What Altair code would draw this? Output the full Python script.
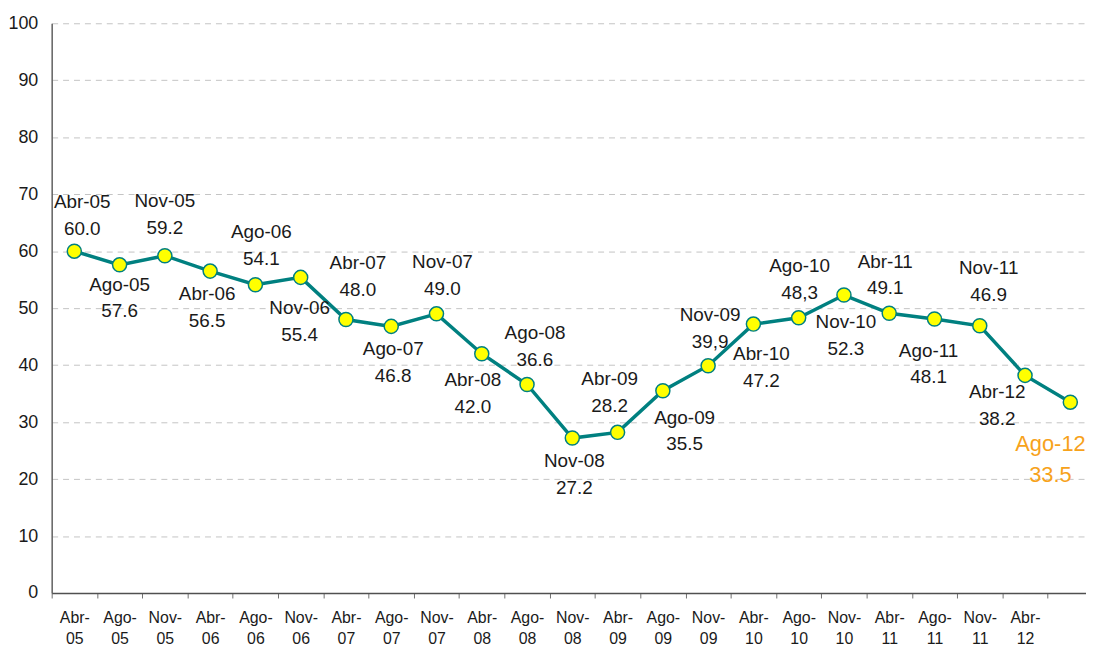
import altair as alt
import pandas as pd
import json

# ---- data ----
cats = ["Abr-05", "Ago-05", "Nov-05", "Abr-06", "Ago-06", "Nov-06", "Abr-07", "Ago-07",
        "Nov-07", "Abr-08", "Ago-08", "Nov-08", "Abr-09", "Ago-09", "Nov-09", "Abr-10",
        "Ago-10", "Nov-10", "Abr-11", "Ago-11", "Nov-11", "Abr-12", "Ago-12"]
values = [60.0, 57.6, 59.2, 56.5, 54.1, 55.4, 48.0, 46.8, 49.0, 42.0, 36.6, 27.2,
          28.2, 35.5, 39.9, 47.2, 48.3, 52.3, 49.1, 48.1, 46.9, 38.2, 33.5]
value_text = ["60.0", "57.6", "59.2", "56.5", "54.1", "55.4", "48.0", "46.8", "49.0",
              "42.0", "36.6", "27.2", "28.2", "35.5", "39,9", "47.2", "48,3", "52.3",
              "49.1", "48.1", "46.9", "38.2", "33.5"]

# ---- label placement (pixel nudges relative to each point) ----
label_dx = [8, 0, 0, -3, 6, -1, 12, 2, 6, -9, 8, 2, -8, 22, 2, 8, 1, 2, -4, -6, 9, -28, -20]
label_dy = [-49, 20, -55, 23, -53, 31, -57, 23, -52, 27, -52, 23, -54, 27, -51, 30, -52, 27,
            -52, 32, -58, 17, 42]

# ---- styling ----
FONT = "Liberation Sans"
TEAL = "#008080"
YELLOW = "#FFFF00"
ORANGE = "#F7A21B"
TEXT = "#1a1a1a"
W = 1042          # visible plot width (to the window edge)
RANGE_W = 1049    # x range: the last band runs past the edge, as in the reference
H = 574
N = len(cats)
bw = RANGE_W / N
ppu = H / 100.0

pts = pd.DataFrame({"idx": list(range(N)), "cat": cats, "val": values})

rows = []
for i, (c, v, vt) in enumerate(zip(cats, values, value_text)):
    last = i == N - 1
    col = ORANGE if last else TEXT
    fs = 22 if last else 19
    gap = 31 if last else 27
    lx = i + label_dx[i] / bw
    rows.append({"lx": lx, "ly": v - label_dy[i] / ppu, "t": c, "c": col, "fs": fs})
    rows.append({"lx": lx, "ly": v - (label_dy[i] + gap) / ppu, "t": vt, "c": col, "fs": fs})
lab = pd.DataFrame(rows)

# x-axis: ticks on category boundaries, labels shifted half a band to the centre
tick_vals = [i - 0.5 for i in range(N)]          # boundaries -0.5 .. 21.5
tick_names = [c.replace("-", "-|") for c in cats[:-1]] + [""]   # last category: no axis label
names_js = json.dumps(tick_names)
label_expr = f"split({names_js}[round(datum.value + 0.5)] || '', '|')"

qscale = alt.Scale(domain=[-0.5, N - 0.5], range=[0, RANGE_W], nice=False, zero=False)
xaxis = alt.Axis(
    title=None, orient="bottom", values=tick_vals, grid=False, labelAngle=0,
    labelExpr=label_expr, labelOffset=bw / 2, labelAlign="center",
    labelFont=FONT, labelFontSize=16, labelLineHeight=21, labelColor=TEXT,
    labelPadding=12, tickSize=5, tickColor="#707070", domainColor="#505050",
    domainWidth=1.5, labelOverlap=False, labelBound=False, labelFlush=False,
)
yscale = alt.Scale(domain=[0, 100], nice=False, zero=True)
yaxis = alt.Axis(
    title=None, values=list(range(0, 101, 10)), grid=True, gridDash=[6, 5],
    gridColor="#c4c4c4", gridWidth=1, ticks=False, labelPadding=14,
    labelFont=FONT, labelFontSize=18, labelColor=TEXT, domainColor="#606060",
    domainWidth=1.5, orient="left",
)

line = alt.Chart(pts).mark_line(color=TEAL, strokeWidth=3.5).encode(
    x=alt.X("idx:Q", scale=qscale, axis=xaxis),
    y=alt.Y("val:Q", scale=yscale, axis=yaxis),
)

points = alt.Chart(pts).mark_circle(
    color=YELLOW, stroke=TEAL, strokeWidth=1.5, size=200, opacity=1
).encode(
    x=alt.X("idx:Q", scale=qscale, axis=xaxis),
    y=alt.Y("val:Q", scale=yscale, axis=yaxis),
)

labels = alt.Chart(lab).mark_text(font=FONT, align="center", baseline="middle").encode(
    x=alt.X("lx:Q", scale=qscale, axis=xaxis),
    y=alt.Y("ly:Q", scale=yscale, axis=yaxis),
    text="t:N",
    color=alt.Color("c:N", scale=None),
    size=alt.Size("fs:Q", scale=None),
)

chart = (
    alt.layer(line, points, labels)
    .properties(
        width=W, height=H,
        autosize=alt.AutoSizeParams(type="none"),
        padding={"left": 44, "top": 13, "right": 0, "bottom": 53},
        background="white",
    )
    .configure_view(stroke=None)
)

chart.save("out.html", embed_options={"renderer": "svg", "actions": False})
